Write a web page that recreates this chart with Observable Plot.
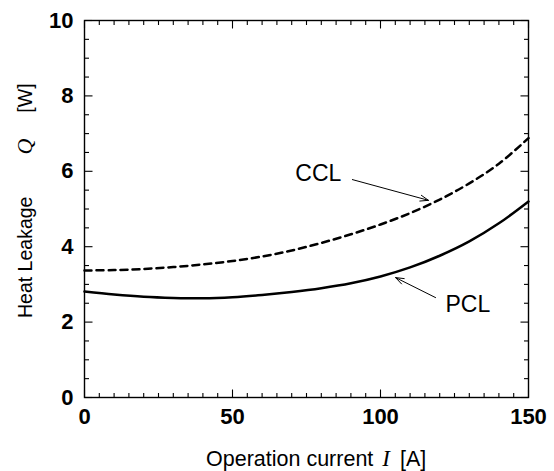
<!DOCTYPE html>
<html><head><meta charset="utf-8">
<script src="https://cdn.jsdelivr.net/npm/d3@7"></script>
<script src="https://cdn.jsdelivr.net/npm/@observablehq/plot@0.6"></script>
<style>body{margin:0;background:#fff;} svg{display:block;}</style>
</head><body><div id="chart"></div>
<script>
// Data
const current = [0, 10, 20, 30, 40, 50, 60, 70, 80, 90, 100, 110, 120, 130, 140, 150];
const pcl = [2.81, 2.73, 2.67, 2.64, 2.63, 2.66, 2.72, 2.80, 2.90, 3.03, 3.21, 3.45, 3.76, 4.14, 4.62, 5.20];
const ccl = [3.37, 3.38, 3.41, 3.46, 3.53, 3.62, 3.74, 3.90, 4.10, 4.33, 4.59, 4.89, 5.25, 5.68, 6.20, 6.88];
const xTickLabels = [0, 50, 100, 150];
const yTickLabels = [0, 2, 4, 6, 8, 10];
const seriesNames = ["CCL", "PCL"];
const labelX = [79, 129.5];
const labelY = [5.95, 2.47];
const arrowX1 = [90.5, 118.6];
const arrowY1 = [5.78, 2.65];
const arrowX2 = [116.2, 105.1];
const arrowY2 = [5.23, 3.18];

const pclData = current.map((c, i) => ({c, q: pcl[i]}));
const cclData = current.map((c, i) => ({c, q: ccl[i]}));
const annot = seriesNames.map((n, i) => ({n, x: labelX[i], y: labelY[i], x1: arrowX1[i], y1: arrowY1[i], x2: arrowX2[i], y2: arrowY2[i]}));

// layout
const W = 554, H = 471, mL = 84, mR = 26, mT = 20, mB = 74;
const xDom = [0, 150], yDom = [0, 10];
const xPerPx = (xDom[1] - xDom[0]) / (W - mL - mR);
const yPerPx = (yDom[1] - yDom[0]) / (H - mT - mB);
const majorLen = 8, minorLen = 4.5;

const xMinor = d3.range(0, 151, 5);
const yMinor = d3.range(0, 10.001, 0.5);

// inward tick segments built from the tick positions
const tickSegs = [];
for (const v of xMinor) {
  const len = (xTickLabels.includes(v) ? majorLen : minorLen) * yPerPx;
  tickSegs.push({x1: v, x2: v, y1: yDom[0], y2: yDom[0] + len});
  tickSegs.push({x1: v, x2: v, y1: yDom[1], y2: yDom[1] - len});
}
for (const v of yMinor) {
  const len = (yTickLabels.includes(v) ? majorLen : minorLen) * xPerPx;
  tickSegs.push({x1: xDom[0], x2: xDom[0] + len, y1: v, y2: v});
  tickSegs.push({x1: xDom[1], x2: xDom[1] - len, y1: v, y2: v});
}

const chart = Plot.plot({
  width: W,
  height: H,
  marginLeft: mL,
  marginRight: mR,
  marginTop: mT,
  marginBottom: mB,
  style: {fontFamily: "'Liberation Sans', Arial, sans-serif", fontSize: "22px", color: "#000", background: "#fff"},
  x: {domain: xDom},
  y: {domain: yDom},
  marks: [
    Plot.frame({stroke: "#000", strokeWidth: 1.4, fill: "none"}),
    Plot.link(tickSegs, {x1: "x1", y1: "y1", x2: "x2", y2: "y2", stroke: "#000", strokeWidth: 1.1}),
    Plot.axisX({ticks: xTickLabels, tickSize: 0, tickPadding: 11, label: null, fontWeight: "bold", fontSize: 22}),
    Plot.axisY({ticks: yTickLabels, tickSize: 0, tickPadding: 11, label: null, fontWeight: "bold", fontSize: 22}),
    Plot.line(cclData, {x: "c", y: "q", curve: "catmull-rom", stroke: "#000", strokeWidth: 2.5, strokeDasharray: "7,5"}),
    Plot.line(pclData, {x: "c", y: "q", curve: "catmull-rom", stroke: "#000", strokeWidth: 2.5}),
    Plot.arrow(annot, {x1: "x1", y1: "y1", x2: "x2", y2: "y2", stroke: "#000", strokeWidth: 1, headLength: 13, headAngle: 40}),
    Plot.text(annot, {x: "x", y: "y", text: "n", fontSize: 23, fill: "#000"})
  ]
});

const svg = d3.select(chart);
const sans = "'Liberation Sans', Arial, sans-serif";
const serif = "'Liberation Serif', 'Times New Roman', serif";
// x axis title
const xt = svg.append("text")
  .attr("x", 206).attr("y", 466)
  .attr("text-anchor", "start")
  .attr("font-family", sans)
  .attr("font-size", 21.5).attr("fill", "#000");
xt.append("tspan").text("Operation current");
xt.append("tspan").attr("dx", 9).attr("font-family", serif).attr("font-style", "italic").attr("font-size", 23).text("I");
xt.append("tspan").attr("dx", 10).text("[A]");
// y axis title
const yt = svg.append("text")
  .attr("transform", "translate(32,318) rotate(-90)")
  .attr("text-anchor", "start")
  .attr("font-family", sans)
  .attr("font-size", 19.5).attr("fill", "#000");
yt.append("tspan").text("Heat Leakage");
yt.append("tspan").attr("dx", 42).attr("font-family", serif).attr("font-style", "italic").attr("font-size", 22).text("Q");
yt.append("tspan").attr("dx", 26).text("[W]");

document.getElementById("chart").appendChild(chart);
</script>
</body></html>
